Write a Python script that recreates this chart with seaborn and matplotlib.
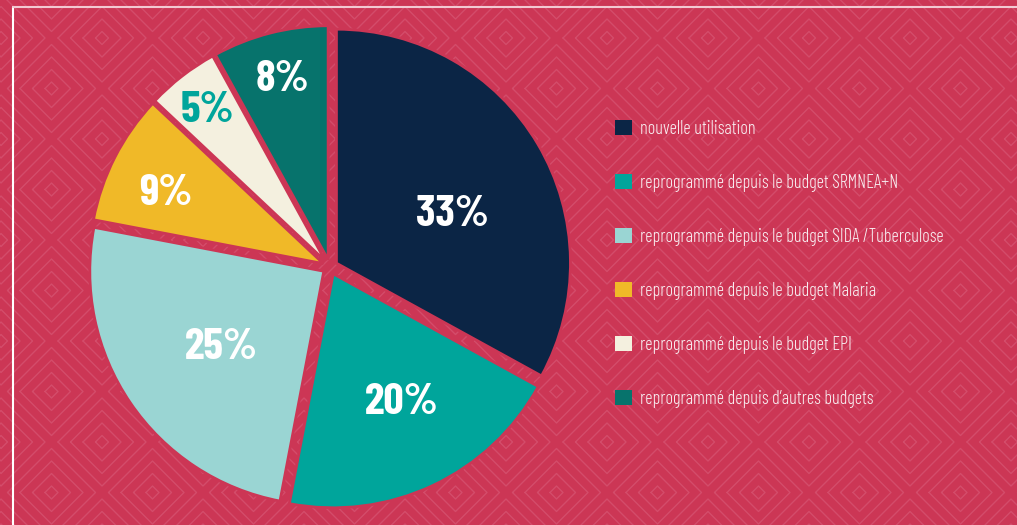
import numpy as np
import matplotlib
matplotlib.use('Agg')
import matplotlib.pyplot as plt
import seaborn as sns
from matplotlib.patches import Patch

sns.set_style("white")
plt.rcParams['font.family'] = ['Barlow Condensed', 'DejaVu Sans']

# Données
categories = ['nouvelle utilisation',
              'reprogrammé depuis le budget SRMNEA+N',
              'reprogrammé depuis le budget SIDA /Tuberculose',
              'reprogrammé depuis le budget Malaria',
              'reprogrammé depuis le budget EPI',
              'reprogrammé depuis d\u2019autres budgets']
values = [33, 20, 25, 9, 5, 8]
colors = ['#0B2545', '#00A59B', '#9AD5D3', '#F0B928', '#F4F0DF', '#07736C']
label_colors = ['white', 'white', 'white', 'white', '#00A59B', 'white']

bg = '#CC3655'
W, H = 1017, 525
fig = plt.figure(figsize=(W / 100, H / 100), dpi=100, facecolor=bg)

# fond à motif de losanges
bgax = fig.add_axes([0, 0, 1, 1])
bgax.set_xlim(0, W)
bgax.set_ylim(H, 0)
bgax.axis('off')
step = 101
centres = []
for j in range(-1, 7):
    for i in range(-1, 11):
        centres.append((102 + step * i, 38 + step * j))
        centres.append((102 + step * i + step / 2, 38 + step * j + step / 2))
for cx, cy in centres:
    for d in [6.5, 19, 31.5, 44]:
        bgax.plot([cx - d, cx, cx + d, cx, cx - d], [cy, cy - d, cy, cy + d, cy],
                  color='#D34C6A', lw=1.0, zorder=0)
# cadre blanc
bgax.plot([13, 13], [H + 5, 7], color='white', lw=1.5, zorder=1)
bgax.plot([13, W + 5], [7, 7], color='#F2C9D2', lw=1.5, zorder=1)

# camembert
r_pix = 234
cx, cy = 330, H - 267
half = 1.1 * r_pix
ax = fig.add_axes([(cx - half) / W, (cy - half) / H, 2 * half / W, 2 * half / H])
wedges, _ = ax.pie(values, colors=colors, startangle=90, counterclock=False,
                   explode=[0.032] * len(values),
                   wedgeprops=dict(edgecolor=bg, linewidth=2))
ax.set_xlim(-1.1, 1.1)
ax.set_ylim(-1.1, 1.1)
ax.set_aspect('equal')
ax.axis('off')

# étiquettes
radii = [0.57, 0.64, 0.575, 0.78, 0.865, 0.84]
shifts = [-6, 3, 1, 2, 0, 0]
ang = 90.0
for v, c, rr, sh in zip(values, label_colors, radii, shifts):
    mid = np.deg2rad(ang - v * 3.6 / 2 + sh)
    ang -= v * 3.6
    ax.text(rr * np.cos(mid) + 0.006, rr * np.sin(mid) - 0.014, f'{v}%', ha='center', va='center',
            color=c, fontsize=32, fontweight='bold')

# légende
handles = [Patch(facecolor=col, edgecolor='none') for col in colors]
leg = fig.legend(handles, categories, loc='upper left', bbox_to_anchor=(615 / W, 1 - 120 / H),
                 frameon=False, prop=dict(size=13.2, weight=300), labelcolor='#F8EEF1',
                 handlelength=0.9, handleheight=0.9, handletextpad=0.45,
                 labelspacing=1.96, borderaxespad=0, borderpad=0)

plt.savefig('out.png', dpi=100, facecolor=bg)
